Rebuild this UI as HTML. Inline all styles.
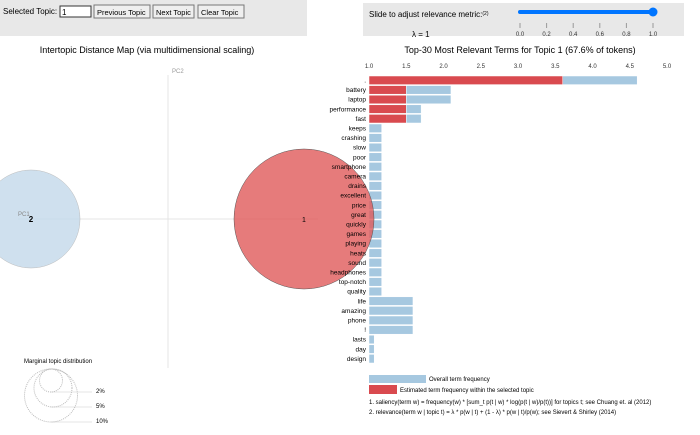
<!DOCTYPE html>
<html><head><meta charset="utf-8"><style>
body{margin:0;width:700px;height:435px;overflow:hidden;background:#fff;font-family:"Liberation Sans",sans-serif;}
svg{position:absolute;left:0;top:0}
</style></head><body>
<svg width="700" height="435" font-family="Liberation Sans, sans-serif">
<rect x="0" y="0" width="307" height="36" fill="#e8e8e8"/>
<text x="3" y="14" font-size="8">Selected Topic:</text>
<rect x="60" y="6" width="31" height="11" fill="#fff" stroke="#333"/>
<text x="62" y="15" font-size="8">1</text>
<g><rect x="94" y="5" width="56" height="13" fill="#efefef" stroke="#777"/><text x="97" y="15" font-size="7.5">Previous Topic</text></g>
<g><rect x="153" y="5" width="41" height="13" fill="#efefef" stroke="#777"/><text x="156" y="15" font-size="7.5">Next Topic</text></g>
<g><rect x="198" y="5" width="46" height="13" fill="#efefef" stroke="#777"/><text x="201" y="15" font-size="7.5">Clear Topic</text></g>
<rect x="363" y="3" width="321" height="33" fill="#e8e8e8"/>
<text x="369" y="17" font-size="8">Slide to adjust relevance metric:<tspan font-size="5" dy="-2">(2)</tspan></text>
<text x="412" y="37" font-size="8">λ = 1</text>
<line x1="520" y1="12" x2="653" y2="12" stroke="#0075ff" stroke-width="4" stroke-linecap="round"/>
<circle cx="653" cy="12" r="4.5" fill="#0075ff"/>
<g id="sl" font-size="6" text-anchor="middle" fill="#333"></g>
<text x="147" y="53" font-size="9" text-anchor="middle">Intertopic Distance Map (via multidimensional scaling)</text>
<text x="520" y="53" font-size="9" text-anchor="middle">Top-30 Most Relevant Terms for Topic 1 (67.6% of tokens)</text>
<line x1="168" y1="75" x2="168" y2="368" stroke="#e4e4e4"/>
<line x1="18" y1="219" x2="318" y2="219" stroke="#e4e4e4"/>
<text x="172" y="73" font-size="6" fill="#999">PC2</text>
<circle cx="31" cy="219" r="49" fill="#c3d8ea" fill-opacity="0.8" stroke="#bbb" stroke-width="0.5"/>
<text x="18" y="216" font-size="6" fill="#888">PC1</text>
<text x="31" y="222" font-size="8" font-weight="bold" text-anchor="middle">2</text>
<g id="bars"></g>
<circle cx="304" cy="219" r="70" fill="#e05a5a" fill-opacity="0.8" stroke="#555" stroke-width="0.5"/>
<text x="304" y="222" font-size="7" text-anchor="middle">1</text>
<g id="terms" font-size="6.5" text-anchor="end"></g>
<g id="xt" font-size="6" text-anchor="middle" fill="#333"></g>
<text x="24" y="363" font-size="6">Marginal topic distribution</text>
<g stroke="#e4e4e4"><line x1="51" y1="392" x2="92" y2="392"/><line x1="51" y1="407" x2="92" y2="407"/><line x1="51" y1="422" x2="92" y2="422"/></g>
<g fill="none" stroke="#bbb" stroke-dasharray="1,1">
<circle cx="51" cy="380.5" r="11.5"/><circle cx="53" cy="388" r="19"/><circle cx="51" cy="395.5" r="26.5"/>
</g>
<g font-size="6"><text x="96" y="393">2%</text><text x="96" y="408">5%</text><text x="96" y="423">10%</text></g>
<rect x="369" y="375" width="57" height="8" fill="#a6c8e0"/>
<text x="429" y="381" font-size="6">Overall term frequency</text>
<rect x="369" y="385" width="28" height="9" fill="#d94a4f"/>
<text x="400" y="392" font-size="6">Estimated term frequency within the selected topic</text>
<text x="369" y="404" font-size="6">1. saliency(term w) = frequency(w) * [sum_t p(t | w) * log(p(t | w)/p(t))] for topics t; see Chuang et. al (2012)</text>
<text x="369" y="414" font-size="6">2. relevance(term w | topic t) = λ * p(w | t) + (1 - λ) * p(w | t)/p(w); see Sievert &amp; Shirley (2014)</text>
</svg>
<script>
const terms=[".","battery","laptop","performance","fast","keeps","crashing","slow","poor","smartphone","camera","drains","excellent","price","great","quickly","games","playing","heats","sound","headphones","top-notch","quality","life","amazing","phone","!","lasts","day","design"];
const overall=[4.6,2.1,2.1,1.7,1.7,1.17,1.17,1.17,1.17,1.17,1.17,1.17,1.17,1.17,1.17,1.17,1.17,1.17,1.17,1.17,1.17,1.17,1.17,1.59,1.59,1.59,1.59,1.07,1.07,1.07];
const topic=[3.6,1.5,1.5,1.5,1.5,0,0,0,0,0,0,0,0,0,0,0,0,0,0,0,0,0,0,0,0,0,0,0,0,0];
const xTicks=[1.0,1.5,2.0,2.5,3.0,3.5,4.0,4.5,5.0];
const sTicks=[0.0,0.2,0.4,0.6,0.8,1.0];
const NS="http://www.w3.org/2000/svg";
const x=v=>369+(v-1)*74.5, y=i=>76+i*9.6, sx=v=>520+v*133;
function mk(t,a,p){const e=document.createElementNS(NS,t);for(const k in a)e.setAttribute(k,a[k]);p.appendChild(e);return e;}
const bars=document.getElementById('bars'),tg=document.getElementById('terms'),xt=document.getElementById('xt'),sl=document.getElementById('sl');
terms.forEach((t,i)=>{
 const b=mk('rect',{x:x(1),y:y(i),width:x(overall[i])-x(1),height:8.6,fill:'#a6c8e0',stroke:'#fff','stroke-width':0.5},bars);
 
 
 if(topic[i]>1){const r=mk('rect',{x:x(1),y:y(i),width:x(topic[i])-x(1),height:8.6,fill:'#d94a4f',stroke:'#fff','stroke-width':0.5},bars);
 
 }
 const tx=mk('text',{x:366,y:y(i)+6.5},tg);tx.textContent=t;
 
 
});
xTicks.forEach(v=>{const t=mk('text',{x:x(v),y:68},xt);t.textContent=v.toFixed(1);
 
 });
sTicks.forEach(v=>{mk('line',{x1:sx(v),y1:23,x2:sx(v),y2:28,stroke:'#999'},sl);
 const t=mk('text',{x:sx(v),y:36},sl);t.textContent=v.toFixed(1);
 
 });
</script>
</body></html>
